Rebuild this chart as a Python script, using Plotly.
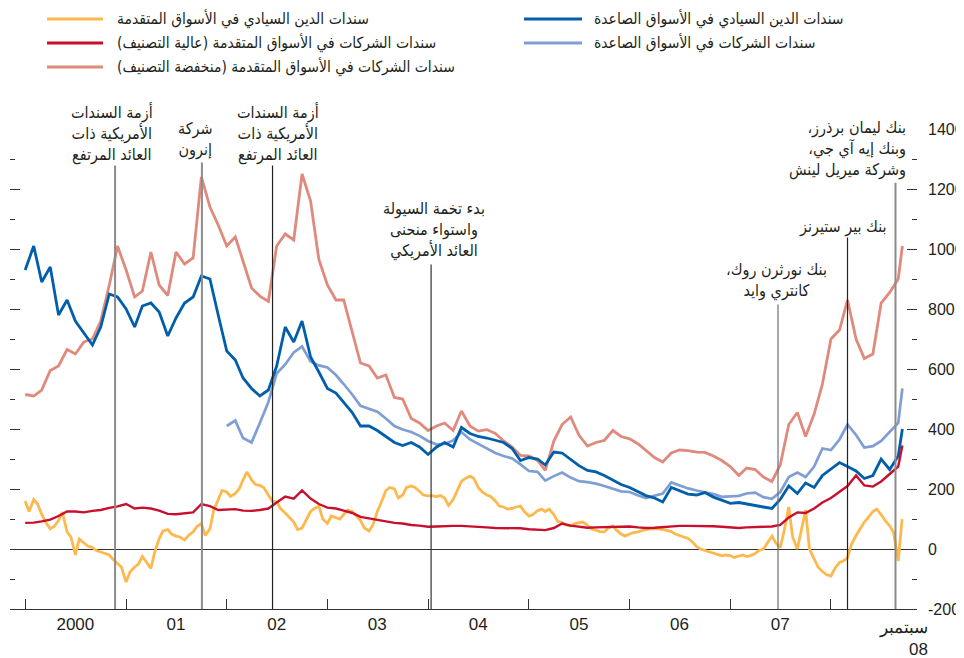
import pandas as pd
import plotly.graph_objects as go

# ---------------- data ----------------
# monthly points (first of month) plus the mid-September 2008 close
dates = [d.strftime("%Y-%m-%d") for d in pd.date_range("2000-01-01", periods=105, freq="MS")] + ["2008-09-16"]
# semi-monthly points (1st and 15th) for the noisy advanced-economy sovereign series
dates_half = [d.strftime("%Y-%m-%d") for d in pd.date_range("2000-01-01", periods=210, freq="SMS")]

em_sov = [930, 1010, 890, 940, 780, 830, 760, 720, 680, 740, 850, 840,
          800, 740, 810, 820, 790, 710, 770, 820, 840, 910, 900, 780,
          660, 630, 570, 535, 510, 530, 610, 740, 690, 760, 640, 590,
          535, 520, 490, 455, 410, 410, 395, 375, 355, 345, 355, 340,
          315, 340, 355, 340, 405, 385, 375, 370, 362, 355, 335, 295,
          305, 300, 280, 323, 320, 300, 278, 262, 257, 245, 230, 215,
          205, 192, 178, 170, 157, 205, 195, 183, 180, 188, 173, 162,
          152, 155, 150, 143, 140, 135, 165, 210, 185, 220, 205, 245,
          265, 288, 275, 260, 235, 245, 300, 265, 310, 400]

em_corp_dates = dates[24:]
em_corp = [410, 428, 370, 355, 420, 490, 585, 615, 655, 675, 625, 612,
           605, 580, 550, 515, 477, 467, 458, 435, 410, 398, 390, 377,
           360, 348, 350, 362, 390, 365, 350, 335, 320, 310, 302, 282,
           260, 257, 228, 243, 255, 238, 226, 223, 218, 210, 200, 192,
           190, 178, 170, 177, 185, 222, 212, 202, 195, 190, 183, 174,
           175, 177, 185, 188, 173, 167, 190, 240, 255, 240, 275, 335,
           330, 365, 415, 380, 338, 343, 360, 390, 420, 535]

dm_hy = [515, 510, 530, 595, 610, 665, 650, 690, 700, 760, 880, 1010,
         930, 840, 860, 990, 880, 845, 990, 950, 970, 1240, 1140, 1080,
         1010, 1040, 960, 870, 843, 825, 1010, 1050, 1030, 1250, 1160, 965,
         880, 830, 830, 720, 620, 610, 570, 580, 505, 500, 435, 420,
         395, 410, 420, 395, 460, 410, 393, 398, 385, 360, 340, 312,
         310, 295, 262, 360, 415, 440, 380, 343, 355, 362, 395, 375,
         367, 350, 330, 305, 290, 320, 330, 328, 323, 322, 310, 295,
         275, 245, 270, 265, 240, 225, 280, 415, 455, 375, 450, 550,
         700, 730, 830, 700, 635, 650, 820, 855, 900, 1010]

dm_ig = [87, 88, 92, 98, 110, 125, 125, 122, 127, 130, 137, 142,
         150, 135, 138, 135, 128, 117, 116, 118, 122, 150, 143, 130,
         132, 133, 128, 127, 130, 135, 155, 175, 168, 195, 168, 150,
         138, 135, 128, 120, 107, 102, 96, 92, 87, 85, 80, 78,
         74, 75, 77, 77, 77, 76, 73, 72, 70, 70, 70, 69,
         66, 64, 63, 70, 85, 78, 74, 71, 72, 73, 74, 76,
         75, 72, 70, 71, 73, 76, 77, 77, 77, 77, 76, 74,
         72, 70, 72, 73, 73, 75, 80, 105, 122, 120, 135, 155,
         170, 190, 210, 245, 212, 208, 225, 250, 275, 345]

dm_sov = [160, 125, 165, 150, 115, 90, 67, 75, 95, 123, 57, 40,
          -20, 33, 20, 10, 5, -5, -10, -15, -20, -35, -50, -60,              # 2000
          -110, -77, -60, -50, -25, -45, -65, -10, 35, 60, 65, 50,
          43, 40, 30, 45, 57, 75, 85, 45, 67, 130, 165, 195,                 # 2001
          190, 175, 185, 200, 230, 257, 230, 215, 212, 205, 180, 160,
          157, 135, 120, 105, 90, 65, 70, 95, 125, 135, 143, 100,            # 2002
          85, 110, 105, 100, 115, 130, 125, 110, 95, 70, 60, 80,
          125, 155, 195, 205, 200, 170, 180, 205, 210, 205, 190, 180,        # 2003
          177, 178, 175, 178, 170, 145, 165, 195, 225, 235, 243, 235,
          205, 190, 180, 175, 160, 143, 140, 133, 135, 140, 143, 125,        # 2004
          110, 115, 128, 133, 125, 133, 115, 92, 88, 80, 77, 85,
          88, 90, 80, 67, 63, 58, 57, 70, 77, 62, 50, 43,                    # 2005
          50, 55, 57, 62, 65, 67, 68, 67, 65, 62, 58, 50,
          45, 40, 35, 25, 8, 0, -5, -10, -15, -20, -23, -20,                 # 2006
          -22, -28, -23, -20, -25, -22, -15, -5, 0, 20, 43, 20,
          5, 60, 140, 40, 0, 60, 130, 0, -30, -60, -75, -85,                 # 2007
          -90, -65, -45, -40, -30, 15, 45, 67, 90, 105, 125, 133,
          115, 95, 77, 55, -40, 100]                                          # 2008

series_names = [
    "سندات الدين السيادي في الأسواق المتقدمة",
    "سندات الشركات في الأسواق المتقدمة (عالية التصنيف)",
    "سندات الشركات في الأسواق المتقدمة (منخفضة التصنيف)",
    "سندات الدين السيادي في الأسواق الصاعدة",
    "سندات الشركات في الأسواق الصاعدة",
]
series_colors = ["#FDB84E", "#C8102E", "#DF8A7D", "#005EAA", "#7F9FD4"]

RLM = "\u200f"
event_dates = ["2000-11-22", "2001-10-03", "2002-06-16", "2004-01-12",
               "2007-06-23", "2008-03-01", "2008-08-22"]
event_tops = [1278, 1288, 1278, 948, 815, 1038, 1221]
event_labels = [
    "أزمة السندات<br>الأمريكية ذات<br>العائد المرتفع",
    "شركة<br>إنرون",
    "أزمة السندات<br>الأمريكية ذات<br>العائد المرتفع",
    "بدء تخمة السيولة<br>واستواء منحنى<br>العائد الأمريكي",
    "بنك نورثرن روك،" + RLM + "<br>كانتري وايد",
    "بنك بير ستيرنز",
    "بنك ليمان برذرز،" + RLM + "<br>وبنك إيه آي جي،" + RLM + "<br>وشركة ميريل لينش",
]

year_ticks = ["2000-07-01", "2001-07-01", "2002-07-01", "2003-07-01",
              "2004-07-01", "2005-07-01", "2006-07-01", "2007-07-01"]
year_labels = ["2000", "01", "02", "03", "04", "05", "06", "07"]
last_label = "سبتمبر<br>08"

y_tickvals = [-200, 0, 200, 400, 600, 800, 1000, 1200, 1400]
y_ticktext = ["-200", "0", "200", "400", "600", "800", "1000", "1200", "1400"]

# ---------------- figure ----------------
AR = "DejaVu Sans Condensed, DejaVu Sans, sans-serif"
NUM = "Liberation Sans Narrow, Arial Narrow, Liberation Sans, sans-serif"
TXT = "#231F20"

fig = go.Figure()
series = [(dates_half, dm_sov, 0, 2.8), (dates, dm_hy, 2, 2.8), (em_corp_dates, em_corp, 4, 2.7),
          (dates, em_sov, 3, 2.8), (dates, dm_ig, 1, 2.4)]
for xs, ys, i, w in series:
    fig.add_trace(go.Scatter(x=xs, y=ys, mode="lines", name=series_names[i],
                             line=dict(color=series_colors[i], width=w),
                             showlegend=False))
# invisible trace so the left tick axis is drawn
fig.add_trace(go.Scatter(x=dates[:2], y=[None, None], yaxis="y2", showlegend=False, hoverinfo="skip"))

# event lines
ev_styles = [("#8C8C8C", 2), ("#8C8C8C", 2), ("#222222", 1.2), ("#333333", 1.2),
             ("#6E6E6E", 1.2), ("#222222", 1.2), ("#8C8C8C", 2)]
for d, top, (c, w) in zip(event_dates, event_tops, ev_styles):
    fig.add_shape(type="line", xref="x", yref="y", x0=d, x1=d, y0=-200, y1=top,
                  line=dict(color=c, width=w), layer="above")

# event labels
ev_pos = [  # (y center value, xshift, xanchor, align)
    (1384, -3, "center", "center"),
    (1366, -6, "center", "center"),
    (1384, 5, "center", "center"),
    (1064, 3, "center", "center"),
    (894, -2, "center", "center"),
    (1074, -5, "center", "center"),
    (1334, 13, "right", "right"),
]
for d, lab, (yv, xs, xa, al) in zip(event_dates, event_labels, ev_pos):
    fig.add_annotation(x=d, y=yv, xref="x", yref="y", text=lab, showarrow=False,
                       xshift=xs, xanchor=xa, yanchor="middle", align=al,
                       font=dict(family=AR, size=16, color=TXT))

# page has an 8px body margin: the figure is drawn 8px right/down of the window corner
def px_x(p):
    return (p - 10) / 907.0


def px_y(p):
    return (609.0 - p) / 480.0


legend_rows = [(0, 47, 103, 115, 19), (1, 47, 103, 115, 43), (2, 47, 103, 115, 67),
               (3, 524, 582, 592, 19), (4, 524, 582, 592, 43)]
for i, xa, xb, xt, yy in legend_rows:
    fig.add_shape(type="line", xref="paper", yref="paper", x0=px_x(xa), x1=px_x(xb),
                  y0=px_y(yy), y1=px_y(yy), line=dict(color=series_colors[i], width=3))
    fig.add_annotation(xref="paper", yref="paper", x=px_x(xt), y=px_y(yy), text=series_names[i],
                       showarrow=False, xanchor="left", yanchor="middle",
                       font=dict(family=AR, size=15.5, color=TXT))

# September 08 label
fig.add_annotation(xref="paper", yref="paper", x=px_x(930), y=px_y(616), text=last_label,
                   showarrow=False, xanchor="right", yanchor="top", align="right",
                   font=dict(family=NUM, size=17, color=TXT))

fig.update_layout(
    width=956, height=650,
    margin=dict(l=2, r=47, t=121, b=49, autoexpand=False),
    plot_bgcolor="white", paper_bgcolor="white",
    showlegend=False,
    xaxis=dict(type="date", range=["1999-11-07", "2008-11-08"], automargin=False,
               tickvals=year_ticks, ticktext=year_labels, ticks="",
               showline=True, linecolor="#333333", linewidth=1,
               showgrid=False, zeroline=False,
               tickfont=dict(family=NUM, size=17, color=TXT),
               minor=dict(ticks="inside", ticklen=10, tickcolor="#333333", tickwidth=1,
                          dtick="M12", tick0="2000-01-01", showgrid=False)),
    yaxis=dict(range=[-200, 1400], side="right", automargin=False,
               ticks="inside", ticklen=10, tickcolor="#333333", tickwidth=1,
               tickmode="array", tickvals=y_tickvals, ticktext=y_ticktext,
               showgrid=False, showline=False, zeroline=True,
               zerolinecolor="#333333", zerolinewidth=1,
               tickfont=dict(family=NUM, size=16, color=TXT), ticklabelstandoff=10,
               minor=dict(ticks="inside", ticklen=5, tickcolor="#333333", dtick=100, tick0=0,
                          showgrid=False)),
    yaxis2=dict(range=[-200, 1400], overlaying="y", side="left", automargin=False,
                ticks="inside", ticklen=10, tickcolor="#333333", tickwidth=1,
                tickmode="array", tickvals=y_tickvals, showticklabels=False,
                showgrid=False, showline=False, zeroline=False,
                minor=dict(ticks="inside", ticklen=5, tickcolor="#333333", dtick=100, tick0=0,
                           showgrid=False)),
)

fig.write_html("out.html")
